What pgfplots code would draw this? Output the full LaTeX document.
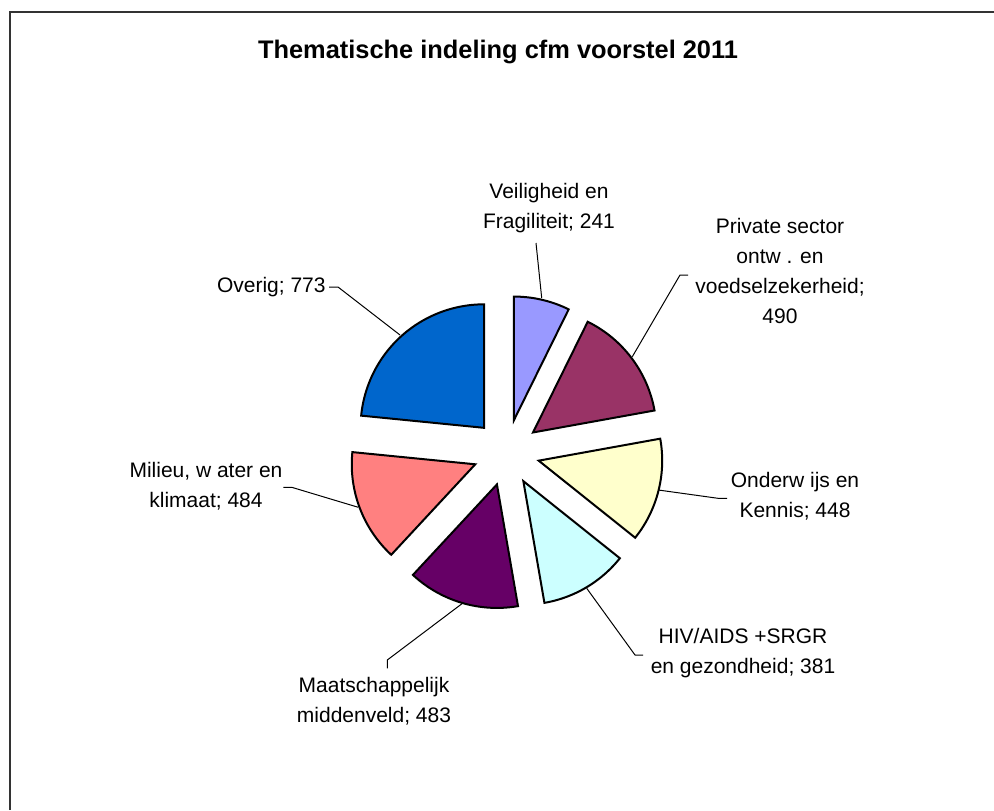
\documentclass[border=0pt]{standalone}
\usepackage{fontspec}
\setmainfont{Liberation Sans}
\usepackage{pgfplots}
\usepackage{pgfplotstable}
\pgfplotsset{compat=1.18}
\definecolor{c0}{HTML}{9999FF}
\definecolor{c1}{HTML}{993366}
\definecolor{c2}{HTML}{FFFFCC}
\definecolor{c3}{HTML}{CCFFFF}
\definecolor{c4}{HTML}{660066}
\definecolor{c5}{HTML}{FF8080}
\definecolor{c6}{HTML}{0066CC}
\pgfplotstableread{
name value
Veiligheid 241
Private 490
Onderwijs 448
HIV 381
Maatschappelijk 483
Milieu 484
Overig 773
}\pietable
\def\cx{506.4}
\def\cy{357.5}
\def\rr{123.5}
\def\dd{33.3}
\newcommand\lbl{\fontsize{10.5}{15}\selectfont}
\begin{document}
\begin{tikzpicture}
\begin{axis}[
  at={(0,0)}, anchor=south west,
  scale only axis, width=497pt, height=405pt,
  xmin=0, xmax=994, ymin=0, ymax=810,
  hide axis, clip=false]
% total
\def\total{0}
\pgfplotsforeachungrouped \i in {0,...,6}{%
  \pgfplotstablegetelem{\i}{value}\of\pietable
  \pgfmathsetmacro\total{\total+\pgfplotsretval}%
  \global\let\total\total
}
\gdef\astart{90}
\pgfplotsforeachungrouped \i in {0,...,6}{%
  \pgfplotstablegetelem{\i}{value}\of\pietable
  \let\v\pgfplotsretval
  \pgfmathsetmacro\aend{\astart-\v/\total*360}%
  \pgfmathsetmacro\amid{(\astart+\aend)/2}%
  \pgfmathsetmacro\tx{\cx+\dd*cos(\amid)}%
  \pgfmathsetmacro\ty{\cy+\dd*sin(\amid)}%
  \edef\doit{\noexpand\addplot[fill=c\i, draw=black, line width=1pt, line join=miter, domain=\aend:\astart, samples=80, variable=\noexpand\t] ({\tx+\rr*cos(\noexpand\t)},{\ty+\rr*sin(\noexpand\t)}) -- (axis cs:\tx,\ty) -- cycle;}%
  \doit
  \global\let\astart\aend
}
% frame (left and top edges visible)
\draw[black!80, line width=1pt] (axis cs:9.5,0) -- (axis cs:9.5,798) -- (axis cs:994,798);
% title
\node[font=\fontsize{12.7}{15}\selectfont\bfseries] at (axis cs:498,758) {Thematische indeling cfm voorstel 2011};
% leader lines
\begin{scope}[line width=0.5pt, black]
\draw (axis cs:536,567) -- (axis cs:541.7,512);
\draw (axis cs:329,523) -- (axis cs:338,523) -- (axis cs:400,475);
\draw (axis cs:688,535) -- (axis cs:680,535) -- (axis cs:632.3,453.3);
\draw (axis cs:727,311.7) -- (axis cs:718,311.7) -- (axis cs:658.3,320);
\draw (axis cs:643,155) -- (axis cs:635,155) -- (axis cs:586.7,221.7);
\draw (axis cs:283.3,322.7) -- (axis cs:291.7,322.7) -- (axis cs:358.3,302.7);
\draw (axis cs:387.3,141.7) -- (axis cs:387.3,150) -- (axis cs:463.3,207.3);
\end{scope}
% labels
\node[align=center, font=\lbl] at (axis cs:549,601.5) {Veiligheid en\\Fragiliteit; 241};
\node[align=center, font=\lbl, anchor=east, inner sep=1pt] at (axis cs:328,523) {Overig; 773};
\node[align=center, font=\lbl] at (axis cs:780,539) {Private sector\\ontw . en\\voedselzekerheid;\\490};
\node[align=center, font=\lbl] at (axis cs:795,313.3) {Onderw ijs en\\Kennis; 448};
\node[align=center, font=\lbl] at (axis cs:743,157) {HIV/AIDS +SRGR\\en gezondheid; 381};
\node[align=center, font=\lbl] at (axis cs:374,109) {Maatschappelijk\\middenveld; 483};
\node[align=center, font=\lbl] at (axis cs:206,324) {Milieu, w ater en\\klimaat; 484};
\end{axis}
\pgfresetboundingbox
\path[use as bounding box] (0,0) rectangle (497pt,405pt);
\end{tikzpicture}
\end{document}
